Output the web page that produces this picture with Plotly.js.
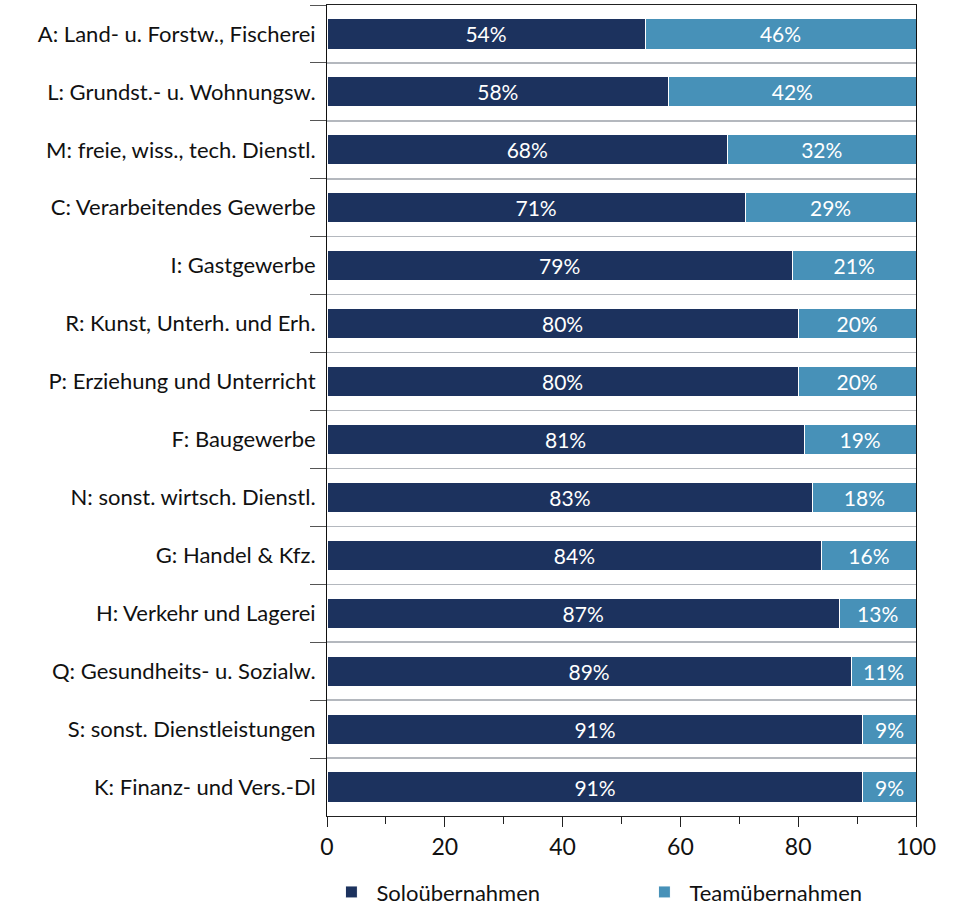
<!DOCTYPE html>
<html>
<head>
<meta charset="utf-8">
<script src="https://cdn.plot.ly/plotly-3.0.1.min.js"></script>
<style>html,body{margin:0;padding:0;background:#fff;}#chart{width:954px;height:907px;}</style>
</head>
<body>
<div id="chart"></div>
<script>
const categories = [
  "A: Land- u. Forstw., Fischerei",
  "L: Grundst.- u. Wohnungsw.",
  "M: freie, wiss., tech. Dienstl.",
  "C: Verarbeitendes Gewerbe",
  "I: Gastgewerbe",
  "R: Kunst, Unterh. und Erh.",
  "P: Erziehung und Unterricht",
  "F: Baugewerbe",
  "N: sonst. wirtsch. Dienstl.",
  "G: Handel & Kfz.",
  "H: Verkehr und Lagerei",
  "Q: Gesundheits- u. Sozialw.",
  "S: sonst. Dienstleistungen",
  "K: Finanz- und Vers.-Dl"
];
const soloValues = [54, 58, 68, 71, 79, 80, 80, 81, 82.5, 84, 87, 89, 91, 91];
const teamValues = [46, 42, 32, 29, 21, 20, 20, 19, 17.5, 16, 13, 11, 9, 9];
const seriesNames = ["Soloübernahmen", "Teamübernahmen"];
const xTicks = [0, 20, 40, 60, 80, 100];

const FONT = "Lato, 'Open Sans', sans-serif";
const colors = ["#1c325e", "#4791b8"];

function barTrace(vals, name, color) {
  return {
    type: "bar",
    orientation: "h",
    y: categories,
    x: vals,
    name: name,
    marker: {color: color, line: {color: "#ffffff", width: 1}},
    texttemplate: "%{x:.0f}%",
    textposition: "inside",
    insidetextanchor: "middle",
    textangle: 0,
    constraintext: "none",
    textfont: {family: FONT, size: 21, color: "#ffffff"},
    hoverinfo: "skip"
  };
}

const data = [
  barTrace(soloValues, seriesNames[0], colors[0]),
  barTrace(teamValues, seriesNames[1], colors[1])
];

const layout = {
  width: 954,
  height: 907,
  margin: {l: 327, r: 38, t: 5, b: 91, autoexpand: false},
  barmode: "stack",
  bargap: 0.48,
  paper_bgcolor: "#ffffff",
  plot_bgcolor: "#ffffff",
  font: {family: FONT, color: "#111111"},
  showlegend: true,
  legend: {
    orientation: "h",
    x: -0.001, xanchor: "left",
    y: -0.068, yanchor: "top",
    font: {family: FONT, size: 22, color: "#111111"},
    itemwidth: 40,
    entrywidth: 258,
    entrywidthmode: "pixels",
    traceorder: "normal"
  },
  xaxis: {
    range: [0, 100],
    tickvals: xTicks,
    ticks: "outside",
    ticklen: 10,
    tickcolor: "#222222",
    tickfont: {family: FONT, size: 23, color: "#111111"},
    showgrid: false,
    zeroline: false,
    showline: true,
    linecolor: "#222222",
    linewidth: 1,
    mirror: true,
    minor: {dtick: 10, tick0: 0, ticks: "outside", ticklen: 7, tickcolor: "#222222", showgrid: false},
    fixedrange: true
  },
  yaxis: {
    type: "category",
    autorange: "reversed",
    tickson: "boundaries",
    ticks: "outside",
    ticklen: 16,
    tickcolor: "#555555",
    showgrid: true,
    gridcolor: "#b4b8be",
    gridwidth: 1.5,
    showline: true,
    linecolor: "#111111",
    linewidth: 1,
    mirror: true,
    ticklabelstandoff: 6,
    tickfont: {family: FONT, size: 22, color: "#111111"},
    fixedrange: true
  }
};

Plotly.newPlot("chart", data, layout, {displayModeBar: false, staticPlot: true});
</script>
</body>
</html>
